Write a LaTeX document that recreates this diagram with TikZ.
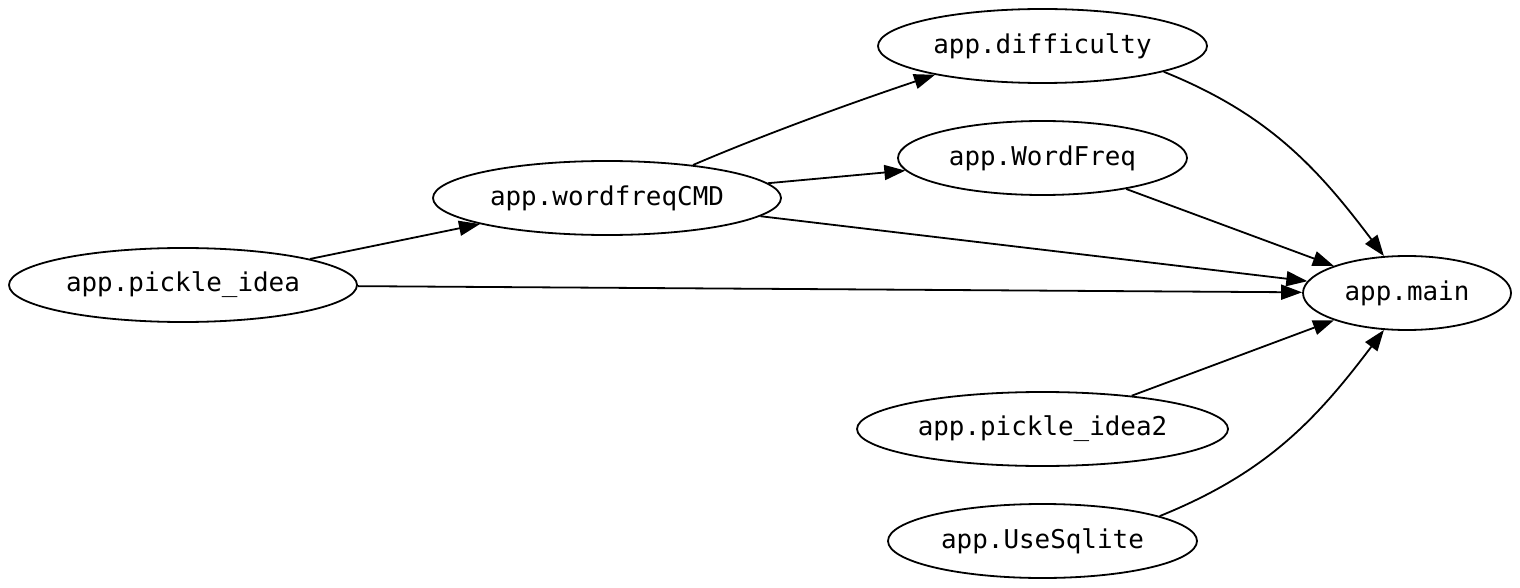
\documentclass[tikz,border=0pt]{standalone}
\usepackage{fontspec}
\newfontfamily\dmono{DejaVu Sans Mono}
\usetikzlibrary{shapes.geometric,arrows.meta}
\begin{document}
\begin{tikzpicture}[x=1pt,y=-1pt,
  mod/.style={draw,ellipse,line width=1.8pt,inner sep=0pt,minimum height=74pt,font=\dmono\fontsize{25.9}{30}\selectfont},
  edge/.style={draw,line width=1.8pt,-{Triangle[length=21pt,width=15pt]}}]
\useasboundingbox (0,0) rectangle (1520,588);
\node[mod,minimum width=329pt] (dif) at (1042.5,46) {app.difficulty};
\node[mod,minimum width=289pt] (wf) at (1042.5,158) {app.WordFreq};
\node[mod,minimum width=348pt] (cmd) at (607,198) {app.wordfreqCMD};
\node[mod,minimum width=348pt] (pi) at (183,285) {app.pickle\_idea};
\node[mod,minimum width=208pt] (main) at (1407,293) {app.main};
\node[mod,minimum width=371pt] (pi2) at (1042.5,429) {app.pickle\_idea2};
\node[mod,minimum width=309pt] (us) at (1042.5,541) {app.UseSqlite};
\draw[edge] (pi) -- (cmd);
\draw[edge] (pi) -- (main);
\draw[edge] (cmd.21.7) .. controls (770,132) and (860,100) .. (dif.195.8);
\draw[edge] (cmd) -- (wf);
\draw[edge] (cmd) -- (main);
\draw[edge] (dif.-12) to[out=-22,in=127] (main.122);
\draw[edge] (wf) -- (main);
\draw[edge] (pi2) -- (main);
\draw[edge] (us.12) to[out=22,in=-127] (main.-122);
\end{tikzpicture}
\end{document}
